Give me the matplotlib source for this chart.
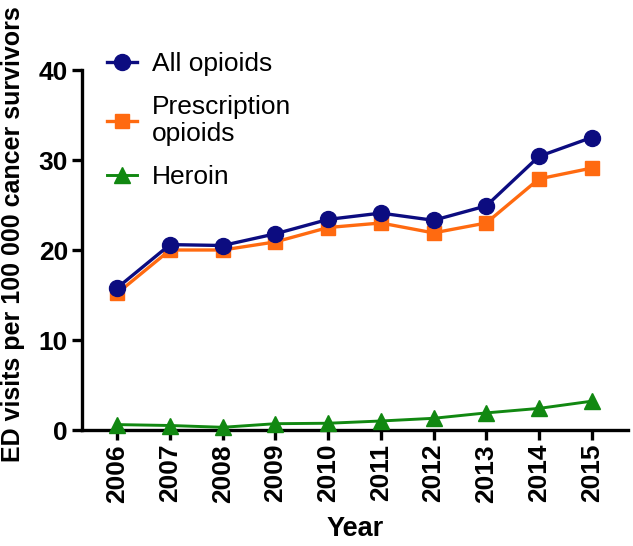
import matplotlib.pyplot as plt

# ED visits per 100 000 cancer survivors
years = [2006, 2007, 2008, 2009, 2010, 2011, 2012, 2013, 2014, 2015]
all_opioids = [15.8, 20.6, 20.5, 21.8, 23.4, 24.1, 23.3, 24.9, 30.4, 32.5]
prescription = [15.2, 20.0, 20.0, 20.9, 22.5, 23.0, 21.9, 23.0, 27.9, 29.1]
heroin = [0.6, 0.5, 0.3, 0.7, 0.75, 1.0, 1.3, 1.9, 2.4, 3.2]

plt.rcParams['font.family'] = ['Liberation Sans', 'DejaVu Sans']

fig = plt.figure(figsize=(6.33, 5.46), dpi=100)
ax = fig.add_axes([82 / 633, 1 - 430 / 546, (628 - 82) / 633, (430 - 70) / 546])

ax.plot(years, all_opioids, color='#0c0c80', lw=2.4, marker='o', ms=11.5,
        label='All opioids', clip_on=False, zorder=3)
ax.plot(years, prescription, color='#ff6a10', lw=2.4, marker='s', ms=10.5,
        label='Prescription\nopioids', clip_on=False, zorder=2)
ax.plot(years, heroin, color='#118811', lw=2.1, marker='^', ms=11,
        label='Heroin', clip_on=False, zorder=4)

ax.set_xlim(2006 - 0.67, 2015 + 0.69)
ax.set_ylim(0, 40)
ax.set_yticks([0, 10, 20, 30, 40])
ax.set_xticks(years)
ax.set_xticklabels([str(y) for y in years], rotation=90)

for side in ('top', 'right'):
    ax.spines[side].set_visible(False)
for side in ('left', 'bottom'):
    ax.spines[side].set_linewidth(2.4)

ax.tick_params(width=2.4, length=7, labelsize=19, pad=3)
for lab in ax.get_xticklabels() + ax.get_yticklabels():
    lab.set_fontweight('bold')

ax.set_xlabel('Year', fontsize=19.5, fontweight='bold', labelpad=10)
ax.set_ylabel('ED visits per 100 000 cancer survivors', fontsize=18,
              fontweight='bold')
ax.yaxis.set_label_coords(-0.104, 0.545)

leg = ax.legend(loc='upper left', bbox_to_anchor=(89 / 633, 1 - 34 / 546),
                bbox_transform=fig.transFigure, frameon=False, fontsize=19,
                handlelength=1.1, handletextpad=0.6, labelspacing=0.72,
                borderpad=0.2)
for txt in leg.get_texts():
    txt.set_linespacing(1.12)

fig.savefig('out.png', dpi=100)
